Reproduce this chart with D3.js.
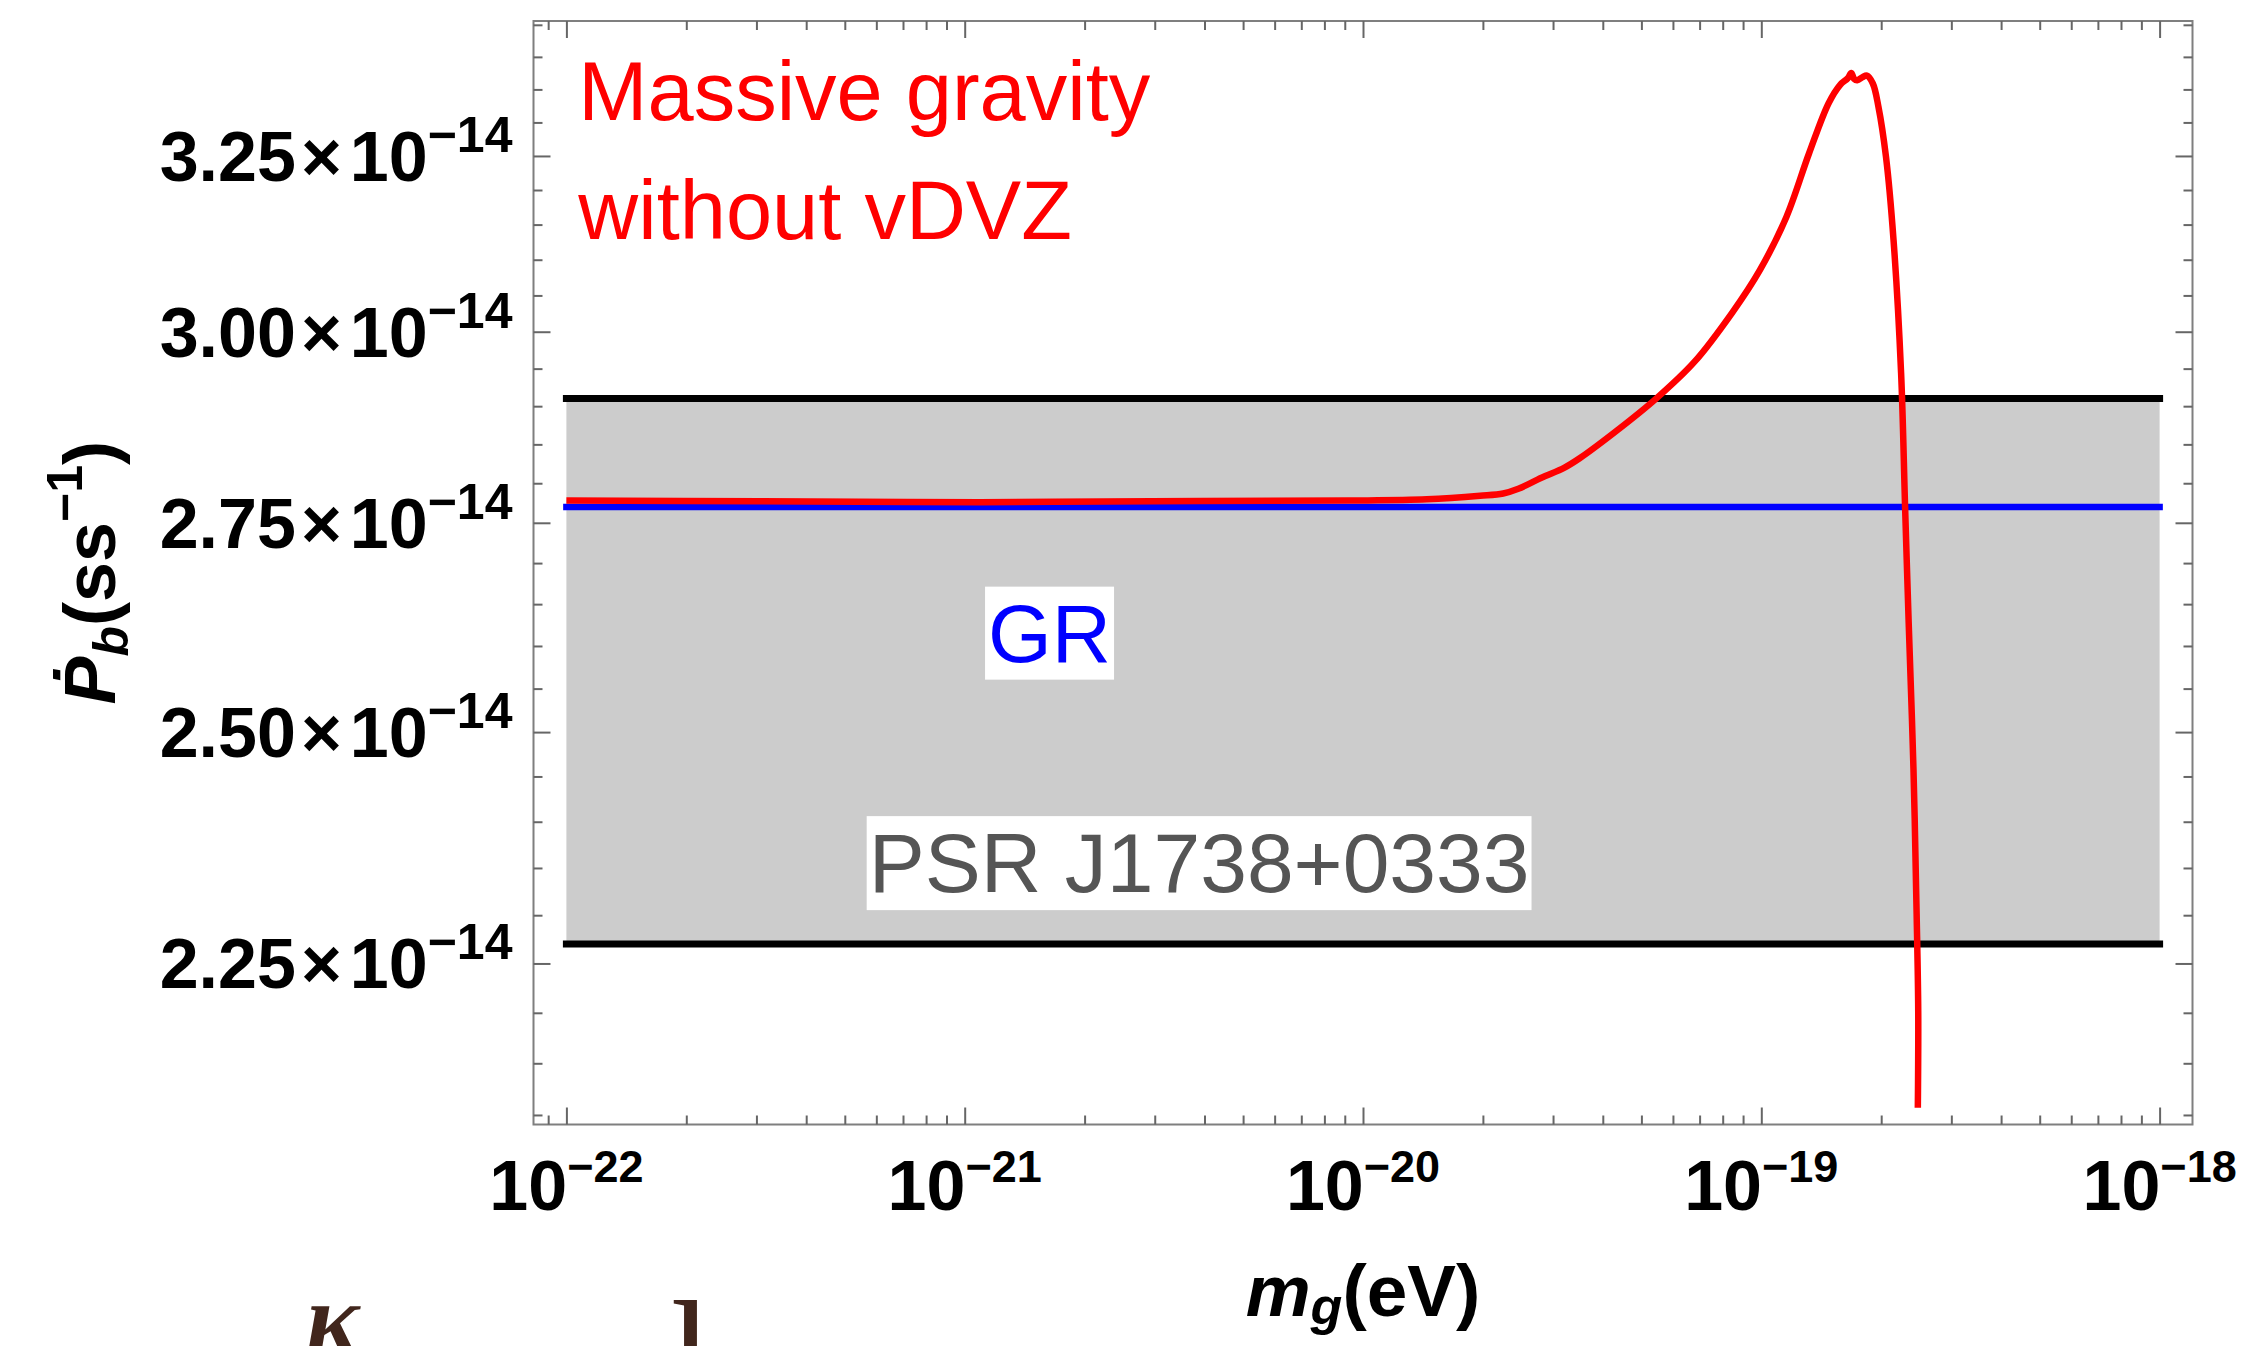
<!DOCTYPE html>
<html><head><meta charset="utf-8">
<script src="https://cdn.jsdelivr.net/npm/d3@7"></script>
<style>body{margin:0;background:#fff;overflow:hidden} svg{display:block}</style>
</head><body>
<script>
// ---------- data ----------
// red curve: log10(m_g / eV) and Pb-dot (units of 1e-14 s/s)
const massLog10 = [-22.000, -21.514, -20.962, -20.409, -20.033, -19.840, -19.706, -19.648, -19.610, -19.552, -19.494, -19.456, -19.360, -19.264, -19.168, -19.072, -19.004, -18.937, -18.880, -18.831, -18.802, -18.783, -18.774, -18.767, -18.759, -18.745, -18.735, -18.720, -18.706, -18.687, -18.668, -18.649, -18.639, -18.630, -18.618, -18.610, -18.606, -18.607];
const pbDotMG   = [2.778, 2.777, 2.776, 2.7775, 2.778, 2.7795, 2.784, 2.787, 2.793, 2.807, 2.820, 2.832, 2.869, 2.910, 2.959, 3.027, 3.085, 3.161, 3.254, 3.329, 3.357, 3.367, 3.375, 3.366, 3.364, 3.369, 3.371, 3.359, 3.324, 3.249, 3.128, 2.944, 2.770, 2.628, 2.459, 2.301, 2.202, 2.107];
const grValue = 2.77;                 // GR prediction
const psrBand = [2.27, 2.91];         // PSR J1738+0333 measurement band
const bandMassLog10 = [-22, -18];     // horizontal extent of band / GR line
const yMajorTicks = [2.25, 2.50, 2.75, 3.00, 3.25];
const yTickLabels = ["2.25", "2.50", "2.75", "3.00", "3.25"];
const yTickExponent = "\u221214";
const xMajorExp = [-22, -21, -20, -19, -18];
const xTickLabels = ["\u221222", "\u221221", "\u221220", "\u221219", "\u221218"];
// annotation anchors (log10 mass, value)
const massiveLabelPos = [-21.970, 3.3041];
const massiveLabelPos2 = [-21.970, 3.1295];
const grLabelPos = [-20.787, 2.5815];
const psrLabelPos = [-20.4115, 2.3243];

// ---------- layout ----------
const W = 2249, H = 1346;
const F = {left: 533.5, right: 2192.5, top: 21, bottom: 1124.5};
const FONT = "'Liberation Sans', Arial, Helvetica, sans-serif";

const svg = d3.select("body").append("svg").attr("width", W).attr("height", H)
  .style("font-family", FONT);
svg.append("rect").attr("width", W).attr("height", H).attr("fill", "#fff");

const x = d3.scaleLog().domain([Math.pow(10, -22.0826), Math.pow(10, -17.9174)]).range([F.left, F.right]);
const y = d3.scaleLog().domain([2.0909, 3.456]).range([F.bottom, F.top]);
const X = e => x(Math.pow(10, e));

// band
svg.append("rect")
  .attr("x", X(bandMassLog10[0])).attr("width", X(bandMassLog10[1]) - X(bandMassLog10[0]))
  .attr("y", y(psrBand[1])).attr("height", y(psrBand[0]) - y(psrBand[1]))
  .attr("fill", "#cccccc");
svg.selectAll(".bandline").data(psrBand).join("line")
  .attr("x1", X(bandMassLog10[0])).attr("x2", X(bandMassLog10[1]))
  .attr("y1", d => y(d)).attr("y2", d => y(d))
  .attr("stroke", "#000").attr("stroke-width", 7).attr("stroke-linecap", "square");
// GR line
svg.append("line")
  .attr("x1", X(bandMassLog10[0])).attr("x2", X(bandMassLog10[1]))
  .attr("y1", y(grValue)).attr("y2", y(grValue))
  .attr("stroke", "#0000ff").attr("stroke-width", 6.5).attr("stroke-linecap", "square");

// labels with white boxes
function boxedLabel(pos, txt, size, color, padX, padY) {
  const g = svg.append("g");
  const t = g.append("text").attr("x", X(pos[0])).attr("y", y(pos[1]))
    .attr("text-anchor", "middle").attr("font-size", size).attr("fill", color).text(txt);
  const b = t.node().getBBox();
  g.insert("rect", "text").attr("x", b.x - padX).attr("y", b.y - padY)
    .attr("width", b.width + 2 * padX).attr("height", b.height + 2 * padY).attr("fill", "#fff");
}
boxedLabel(grLabelPos, "GR", 82, "#0000ff", 3, 1);
boxedLabel(psrLabelPos, "PSR J1738+0333", 84, "#555555", 2, 0);

// red curve
const pts = massLog10.map((m, i) => [m, pbDotMG[i]]);
svg.append("path").datum(pts)
  .attr("d", d3.line().x(d => X(d[0])).y(d => y(d[1])).curve(d3.curveCatmullRom.alpha(0.5)))
  .attr("fill", "none").attr("stroke", "#ff0000").attr("stroke-width", 6.5)
  .attr("stroke-linejoin", "round");

// frame
svg.append("rect").attr("x", F.left).attr("y", F.top)
  .attr("width", F.right - F.left).attr("height", F.bottom - F.top)
  .attr("fill", "none").attr("stroke", "#7f7f7f").attr("stroke-width", 2);

// ticks via d3 axes
const yMinor = d3.range(2.10, 3.4501, 0.05).map(v => +v.toFixed(2)).filter(v => !yMajorTicks.some(m => Math.abs(m - v) < 1e-6));
const xMinor = [];
for (let n = -23; n <= -19; n++) for (let k = 2; k <= 9; k++) {
  const v = k * Math.pow(10, n);
  if (v > x.domain()[0] && v < x.domain()[1]) xMinor.push(v);
}
const xMajorVals = xMajorExp.map(e => Math.pow(10, e));
function tickAxis(gen, vals, size, tx, ty) {
  const g = svg.append("g").attr("transform", `translate(${tx},${ty})`)
    .call(gen.tickValues(vals).tickSize(size).tickFormat(""));
  g.select(".domain").remove();
  g.selectAll(".tick line").attr("stroke", "#666").attr("stroke-width", 2);
}
tickAxis(d3.axisLeft(y), yMajorTicks, -17, F.left, 0);
tickAxis(d3.axisLeft(y), yMinor, -9, F.left, 0);
tickAxis(d3.axisRight(y), yMajorTicks, -17, F.right, 0);
tickAxis(d3.axisRight(y), yMinor, -9, F.right, 0);
tickAxis(d3.axisBottom(x), xMajorVals, -17, 0, F.bottom);
tickAxis(d3.axisBottom(x), xMinor, -9, 0, F.bottom);
tickAxis(d3.axisTop(x), xMajorVals, -17, 0, F.top);
tickAxis(d3.axisTop(x), xMinor, -9, 0, F.top);

// y tick labels
const yl = svg.selectAll(".ylab").data(yMajorTicks).join("text")
  .attr("x", F.left - 21).attr("y", d => y(d) + 25)
  .attr("text-anchor", "end").attr("font-weight", "bold").attr("font-size", 70).attr("fill", "#000");
yl.append("tspan").text((d, i) => yTickLabels[i]);
yl.append("tspan").attr("dx", 5).text("\u00d7");
yl.append("tspan").attr("dx", 8).text("10");
yl.append("tspan").attr("font-size", 50).attr("dy", -29).text(yTickExponent);

// x tick labels
const xl = svg.selectAll(".xlab").data(xMajorExp).join("text")
  .attr("x", d => X(d)).attr("y", 1210)
  .attr("text-anchor", "middle").attr("font-weight", "bold").attr("font-size", 70).attr("fill", "#000");
xl.append("tspan").text("10");
xl.append("tspan").attr("font-size", 45).attr("dy", -28).text((d, i) => xTickLabels[i]);

// x axis title
const xt = svg.append("text").attr("x", (F.left + F.right) / 2).attr("y", 1316)
  .attr("text-anchor", "middle").attr("font-weight", "bold").attr("font-size", 73);
xt.append("tspan").attr("font-style", "italic").text("m");
xt.append("tspan").attr("font-style", "italic").attr("font-size", 52).attr("dy", 8).text("g");
xt.append("tspan").attr("dy", -8).text("(eV)");

// y axis title
const yt = svg.append("g").attr("transform", `translate(115,${(F.top + F.bottom) / 2}) rotate(-90)`)
  .append("text").attr("text-anchor", "middle").attr("font-weight", "bold").attr("font-size", 72);
yt.append("tspan").attr("font-style", "italic").text("\u1E56");
yt.append("tspan").attr("font-style", "italic").attr("font-size", 50).attr("dy", 13).text("b");
yt.append("tspan").attr("dy", -13).text("(ss");
yt.append("tspan").attr("font-size", 50).attr("dy", -33).text("\u22121");
yt.append("tspan").attr("dy", 33).text(")");

// model label
svg.append("text").attr("x", X(massiveLabelPos[0])).attr("y", y(massiveLabelPos[1]))
  .attr("font-size", 83).attr("fill", "#ff0000").text("Massive gravity");
svg.append("text").attr("x", X(massiveLabelPos2[0])).attr("y", y(massiveLabelPos2[1]))
  .attr("font-size", 83).attr("fill", "#ff0000").text("without vDVZ");

// stray glyphs from the page below the figure (cut off in the reference as well)
svg.append("text").attr("x", 306).attr("y", 1352).attr("font-family", "'Liberation Serif', 'DejaVu Serif', serif")
  .attr("font-style", "italic").attr("font-weight", "bold").attr("font-size", 100).attr("fill", "#41261c").text("\u03BA");
svg.append("text").attr("x", 670).attr("y", 1372).attr("font-family", "'Liberation Serif', 'DejaVu Serif', serif")
  .attr("font-weight", "bold").attr("font-size", 104).attr("fill", "#41261c").text("]");
</script>
</body></html>
